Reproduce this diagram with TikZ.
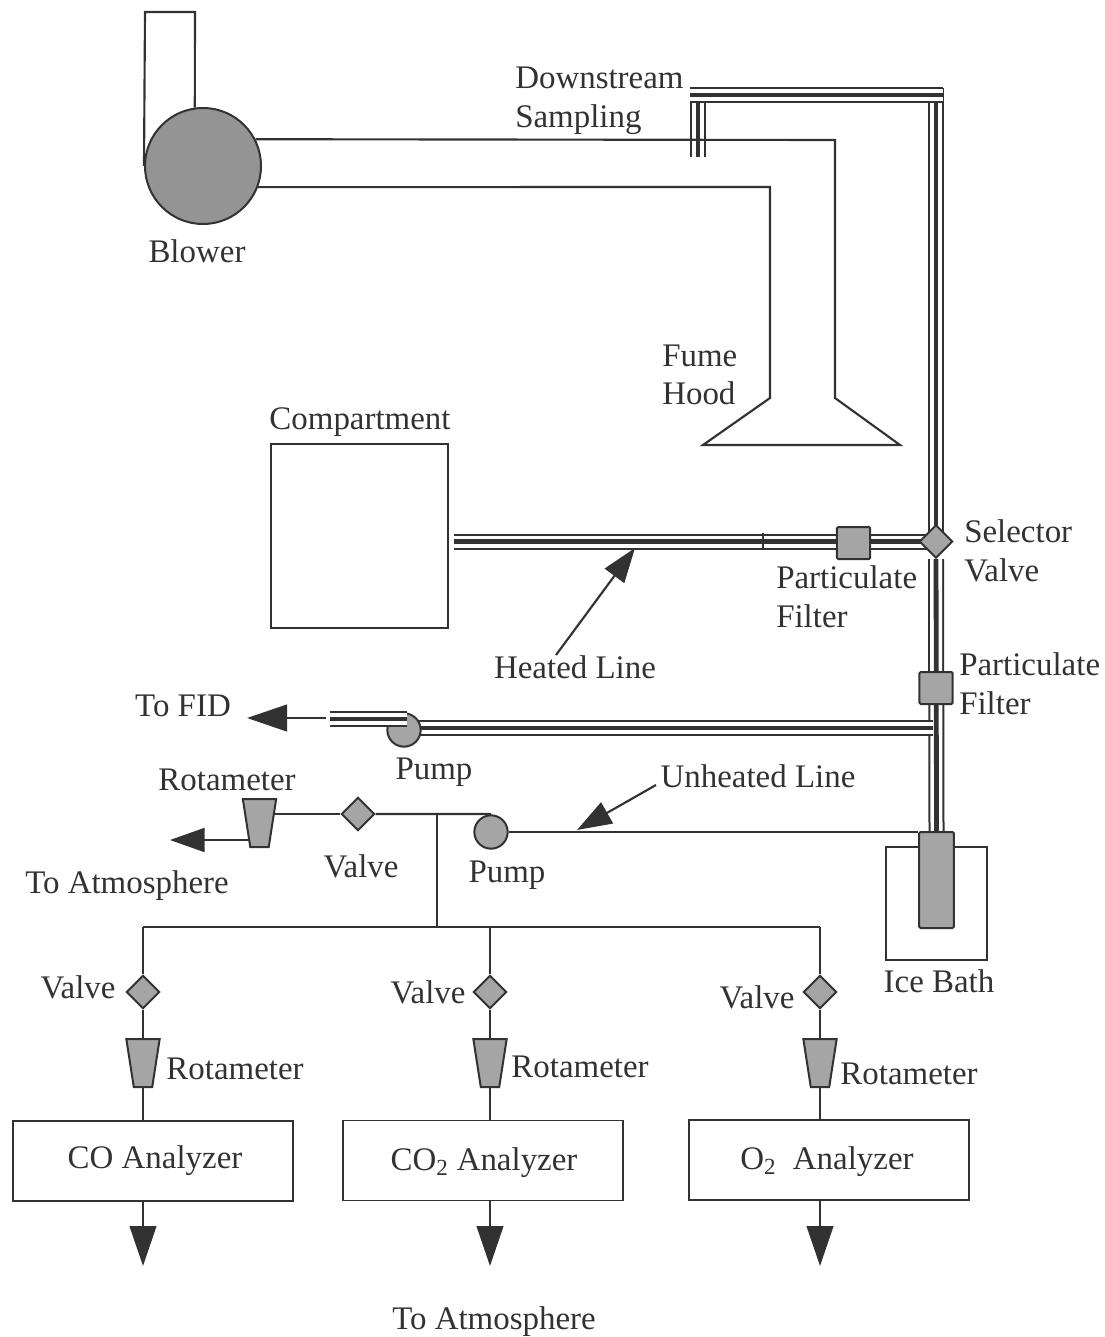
\documentclass[tikz,border=0pt]{standalone}
\usepackage{fontspec}
\setmainfont{Liberation Serif}
\usetikzlibrary{arrows.meta,positioning,shapes.geometric,backgrounds}
\definecolor{InkGray}{RGB}{50,50,50}
\definecolor{FillGray}{RGB}{148,148,148}
\definecolor{SoftGray}{RGB}{165,165,165}
\tikzset{
  txt/.style={text=InkGray,font=\fontsize{24.7}{29}\selectfont,align=left,inner sep=0pt},
  wire/.style={draw=InkGray,line width=1.6pt},
  pipe/.style={draw=InkGray,line width=12pt,
    postaction={draw=white,line width=9pt},
    postaction={draw=InkGray,line width=3.6pt}},
  valve/.style={diamond,draw=InkGray,fill=SoftGray,line width=1.4pt,inner sep=0pt,
    minimum width=25pt,minimum height=25pt},
  filterbox/.style={rectangle,draw=InkGray,fill=SoftGray,line width=1.5pt,rounded corners=1pt,
    inner sep=0pt,minimum width=25pt,minimum height=24pt},
  pump/.style={circle,draw=InkGray,fill=SoftGray,line width=1.5pt,inner sep=0pt,minimum size=25pt},
  rota/.style={trapezium,shape border rotate=180,trapezium angle=68,trapezium stretches=true,
    draw=InkGray,fill=SoftGray,line width=1.5pt,inner sep=1pt,minimum width=25pt,minimum height=36pt},
  analyzer/.style={rectangle,draw=InkGray,line width=1.3pt,inner sep=0pt,
    minimum width=210pt,minimum height=60pt},
  arrow/.style={wire,-{Triangle[length=30pt,width=20pt]}},
  thinarrow/.style={wire,-{Triangle[length=26pt,width=18pt]}}
}
\begin{document}
\begin{tikzpicture}[x=0.75pt,y=-0.75pt]
  \useasboundingbox (0,0) rectangle (1105,1337);
  % blower and fume hood
  \node[circle,draw=InkGray,fill=FillGray,line width=1.5pt,inner sep=0pt,minimum size=87pt] (blower) at (203,166) {};
  \node[txt] (blowerlabel) at (197,251) {Blower};
  \draw[wire] (blower.west) -- (145,12) -- (195,12) -- (blower.98);
  \draw[wire] (blower.27) -- (835,140) -- (835,398) -- (900,445) -- (703,445) -- (770,398) -- (770,187) -- (blower.-21);
  \node[txt,anchor=west] (hoodlabel) at (662,375) {Fume\\Hood};
  \node[txt,anchor=west] (samplelabel) at (515,101) {Downstream\\Sampling};
  % compartment
  \node[rectangle,draw=InkGray,line width=1.4pt,minimum width=133pt,minimum height=138pt,inner sep=0pt] (compartment) at (359.5,536) {};
  \node[txt] (complabel) at (360,422) {Compartment};
  \coordinate (heatedend) at (454,541.5);
  \coordinate (sampleend) at (698,157);
  % valves and filters
  \node[valve] (selector) at (936,541.5) {};
  \node[txt,anchor=west] (selectorlabel) at (964,551) {Selector\\Valve};
  \node[filterbox] (filterh) at (853.5,543) {};
  \node[txt,anchor=west] (filterhlabel) at (776,597) {Particulate\\Filter};
  \node[filterbox] (filterv) at (936,688) {};
  \node[txt,anchor=west] (filtervlabel) at (959,684) {Particulate\\Filter};
  % ice bath
  \node[rectangle,draw=InkGray,line width=1.4pt,minimum width=75.5pt,minimum height=84.5pt,inner sep=0pt] (bath) at (936.5,903.5) {};
  \node[rectangle,draw=InkGray,fill=SoftGray,line width=1.5pt,rounded corners=1pt,minimum width=26pt,minimum height=72pt,inner sep=0pt] (trap) at (936.5,880) {};
  \node[txt] (bathlabel) at (939,981) {Ice Bath};
  % pumps
  \coordinate (branchh) at (933,728);
  \node[pump] (pumpa) at (404,730) {};
  \node[txt] (pumpalabel) at (434,772) {Pump};
  \node[pump] (pumpb) at (491,832) {};
  \node[txt] (pumpblabel) at (507,875) {Pump};
  % valve on the line to atmosphere
  \node[valve] (valvetop) at (358,814) {};
  \node[rota] (rotatop) at (259.5,823) {};
  % heated lines
  \begin{scope}[on background layer]
    \draw[pipe] (sampleend) -- (698,88);
    \draw[pipe] (936,88) -- (selector.center);
    \draw[pipe] (690,95) -- (943,95);
    \draw[pipe] (heatedend) -- (selector.center);
    \draw[pipe] (selector) -- (trap.north);
    \draw[pipe] (pumpa.center) ++(0,-2) -- (branchh);
    \draw[wire] (rotatop.east |- valvetop) -- (valvetop);
  \end{scope}
  \draw[wire] (763,533) -- (763,550);
  \draw[pipe] (407,719) -- (330,719);
  \draw[arrow] (326,718) -- (247,718);
  \node[txt] (fidlabel) at (183,706) {To FID};
  % unheated lines
  \coordinate (split) at (437,814);
  \coordinate (header) at (437,927);
  \draw[wire] (pumpb.east) -- (trap.north west |- pumpb.east);
  \draw[wire] (valvetop) -- (490,814) -- (pumpb.north);
  \draw[wire] (split) -- (header);
  \draw[thinarrow] (250,840) -- (170,840);
  \node[txt] (rotatoplabel) at (227,780) {Rotameter};
  \node[txt] (valvetoplabel) at (361,866) {Valve};
  \node[txt] (atmolabel) at (127,886) {To Atmosphere};
  \node[txt] (heatedlabel) at (575,667) {Heated Line};
  \node[txt] (unheatedlabel) at (758,776) {Unheated Line};
  \draw[thinarrow] (556,655) -- (635,548);
  \draw[thinarrow] (656,785) -- (577,830);
  % analyzer branches
  \node[valve] (valvea) at (143,992) {};
  \node[valve] (valveb) at (490,992) {};
  \node[valve] (valvec) at (820,992) {};
  \node[rota] (rotaa) at (143,1063) {};
  \node[rota] (rotab) at (490,1063) {};
  \node[rota] (rotac) at (820,1063) {};
  \node[analyzer] (coan) at (153,1161) {};
  \node[analyzer] (cotwoan) at (483,1160.5) {};
  \node[analyzer] (otwoan) at (829,1160) {};
  \node[txt] at (155,1161) {CO Analyzer};
  \node[txt] at (484,1163) {CO\textsubscript{2} Analyzer};
  \node[txt] at (827,1162) {O\textsubscript{2}\ \ Analyzer};
  \draw[wire] (143,927) -- (820,927);
  \foreach \va/\ro/\an/\xx in {valvea/rotaa/coan/143,valveb/rotab/cotwoan/490,valvec/rotac/otwoan/820}{
    \draw[wire] (\xx,927) -- (\va);
    \draw[wire] (\va) -- (\ro);
    \draw[wire] (\ro) -- (\xx,1121);
    \coordinate (tip\an) at (\xx,1266);
    \draw[arrow] (\xx,1201) -- (tip\an);
  }
  \node[txt] (va) at (78,987) {Valve};
  \node[txt] (vb) at (428,992) {Valve};
  \node[txt] (vc) at (757,997) {Valve};
  \node[txt] (ra) at (235,1069) {Rotameter};
  \node[txt] (rb) at (580,1067) {Rotameter};
  \node[txt] (rc) at (909,1074) {Rotameter};
  \node[txt] (atmobottom) at (494,1322) {To Atmosphere};
\end{tikzpicture}
\end{document}
